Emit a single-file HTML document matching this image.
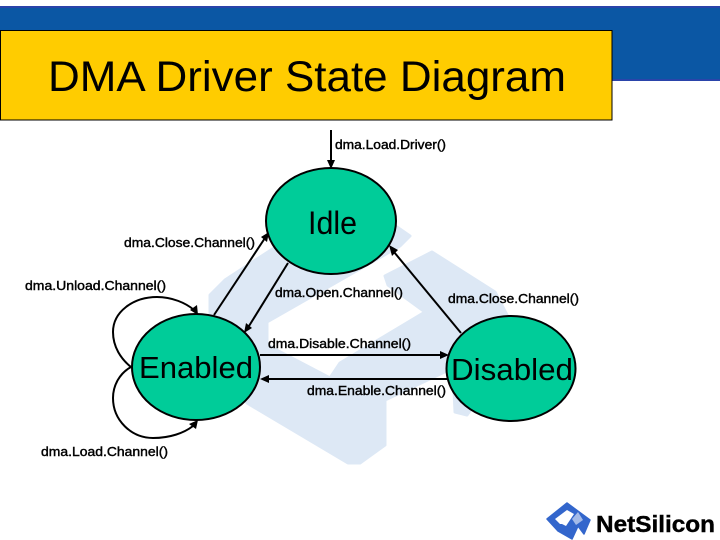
<!DOCTYPE html>
<html><head><meta charset="utf-8"><style>
html,body{margin:0;padding:0;background:#fff}
svg{display:block}
text{font-family:"Liberation Sans",sans-serif;fill:#000}
.l{font-size:12.5px;stroke:#000;stroke-width:.4px}
.s{font-size:31px}
</style></head><body>
<svg width="720" height="540" viewBox="0 0 720 540" xmlns="http://www.w3.org/2000/svg">
<rect width="720" height="540" fill="#fff"/>
<rect x="0" y="6" width="720" height="75" fill="#2a44aa"/>
<rect x="0" y="8" width="720" height="71" fill="#0b57a4"/>
<rect x="0.5" y="30.5" width="611.5" height="89.5" fill="#ffcc00" stroke="#000" stroke-width="1"/>
<text x="48" y="91" font-size="43" textLength="518" lengthAdjust="spacingAndGlyphs">DMA Driver State Diagram</text>

<polygon points="225,280 340,205 397,227 410,236 400,246 267,322 267,345 330,378 340,363 425,312 388,285 385,276 432,252 495,292 520,340 467,415 455,412 453,368 385,400 385,445 360,463 348,463 247,403 210,340 210,295" fill="#dde8f5" stroke="#dde8f5" stroke-width="3" stroke-linejoin="round"/>

<g fill="none" stroke="#000" stroke-width="2">
<line x1="331" y1="130" x2="331" y2="162"/>
<line x1="214" y1="315" x2="265" y2="238"/>
<line x1="288" y1="263" x2="249" y2="326"/>
<line x1="461" y1="333" x2="394" y2="252"/>
<line x1="260" y1="355" x2="442" y2="355"/>
<line x1="447" y1="379" x2="267" y2="379"/>
<path d="M131,367 C121,359 113,347 113,332 C113,312 133,297 157,297 C172,297 186,303 194,310"/>
<path d="M131,367 C120,373 113,385 113,398 C113,420 131,438 153,438 C170,438 184,433 193,426"/>
</g>
<g fill="#000">
<polygon points="331,169 327,160 335,160"/>
<polygon points="269,232 267,242 261,237"/>
<polygon points="244,333 246,323 252,328"/>
<polygon points="389,245 398,250 392,256"/>
<polygon points="449,355 440,351 440,359"/>
<polygon points="260,379 269,375 269,383"/>
<polygon points="198,315 190,310 197,305"/>
<polygon points="198,420 196,429 189,424"/>
</g>
<g fill="#00cc99" stroke="#000" stroke-width="2">
<ellipse cx="331" cy="221" rx="65" ry="53"/>
<ellipse cx="196" cy="367" rx="64" ry="53"/>
<ellipse cx="511" cy="368.5" rx="64.5" ry="52.5"/>
</g>
<text x="308" y="234" font-size="32" textLength="49" lengthAdjust="spacingAndGlyphs">Idle</text>
<text class="s" x="139" y="378" textLength="114" lengthAdjust="spacingAndGlyphs">Enabled</text>
<text class="s" x="451" y="380" textLength="122" lengthAdjust="spacingAndGlyphs">Disabled</text>

<text class="l" x="335" y="149" textLength="111" lengthAdjust="spacingAndGlyphs">dma.Load.Driver()</text>
<text class="l" x="124" y="247" textLength="131" lengthAdjust="spacingAndGlyphs">dma.Close.Channel()</text>
<text class="l" x="25" y="290" textLength="141" lengthAdjust="spacingAndGlyphs">dma.Unload.Channel()</text>
<text class="l" x="275" y="297" textLength="128" lengthAdjust="spacingAndGlyphs">dma.Open.Channel()</text>
<text class="l" x="448" y="303" textLength="131" lengthAdjust="spacingAndGlyphs">dma.Close.Channel()</text>
<text class="l" x="268" y="348" textLength="143" lengthAdjust="spacingAndGlyphs">dma.Disable.Channel()</text>
<text class="l" x="307" y="395" textLength="139" lengthAdjust="spacingAndGlyphs">dma.Enable.Channel()</text>
<text class="l" x="41" y="456" textLength="127" lengthAdjust="spacingAndGlyphs">dma.Load.Channel()</text>

<path d="M547,519 L567,503 L590,520 L584,534 L578,526 L572,539 L558,531 Z" fill="#3366cc" stroke="#3366cc" stroke-width="1.5" stroke-linejoin="round"/>
<polygon points="555,519 567,510 574,514 566,526 562,524 560,524" fill="#fff"/>
<polygon points="576,525 572,519 578,512 583,520" fill="#fff" opacity=".55"/>
<text x="596" y="532" font-size="23" font-weight="bold" textLength="119" lengthAdjust="spacingAndGlyphs" stroke="#000" stroke-width=".4">NetSilicon</text>
</svg>
</body></html>
